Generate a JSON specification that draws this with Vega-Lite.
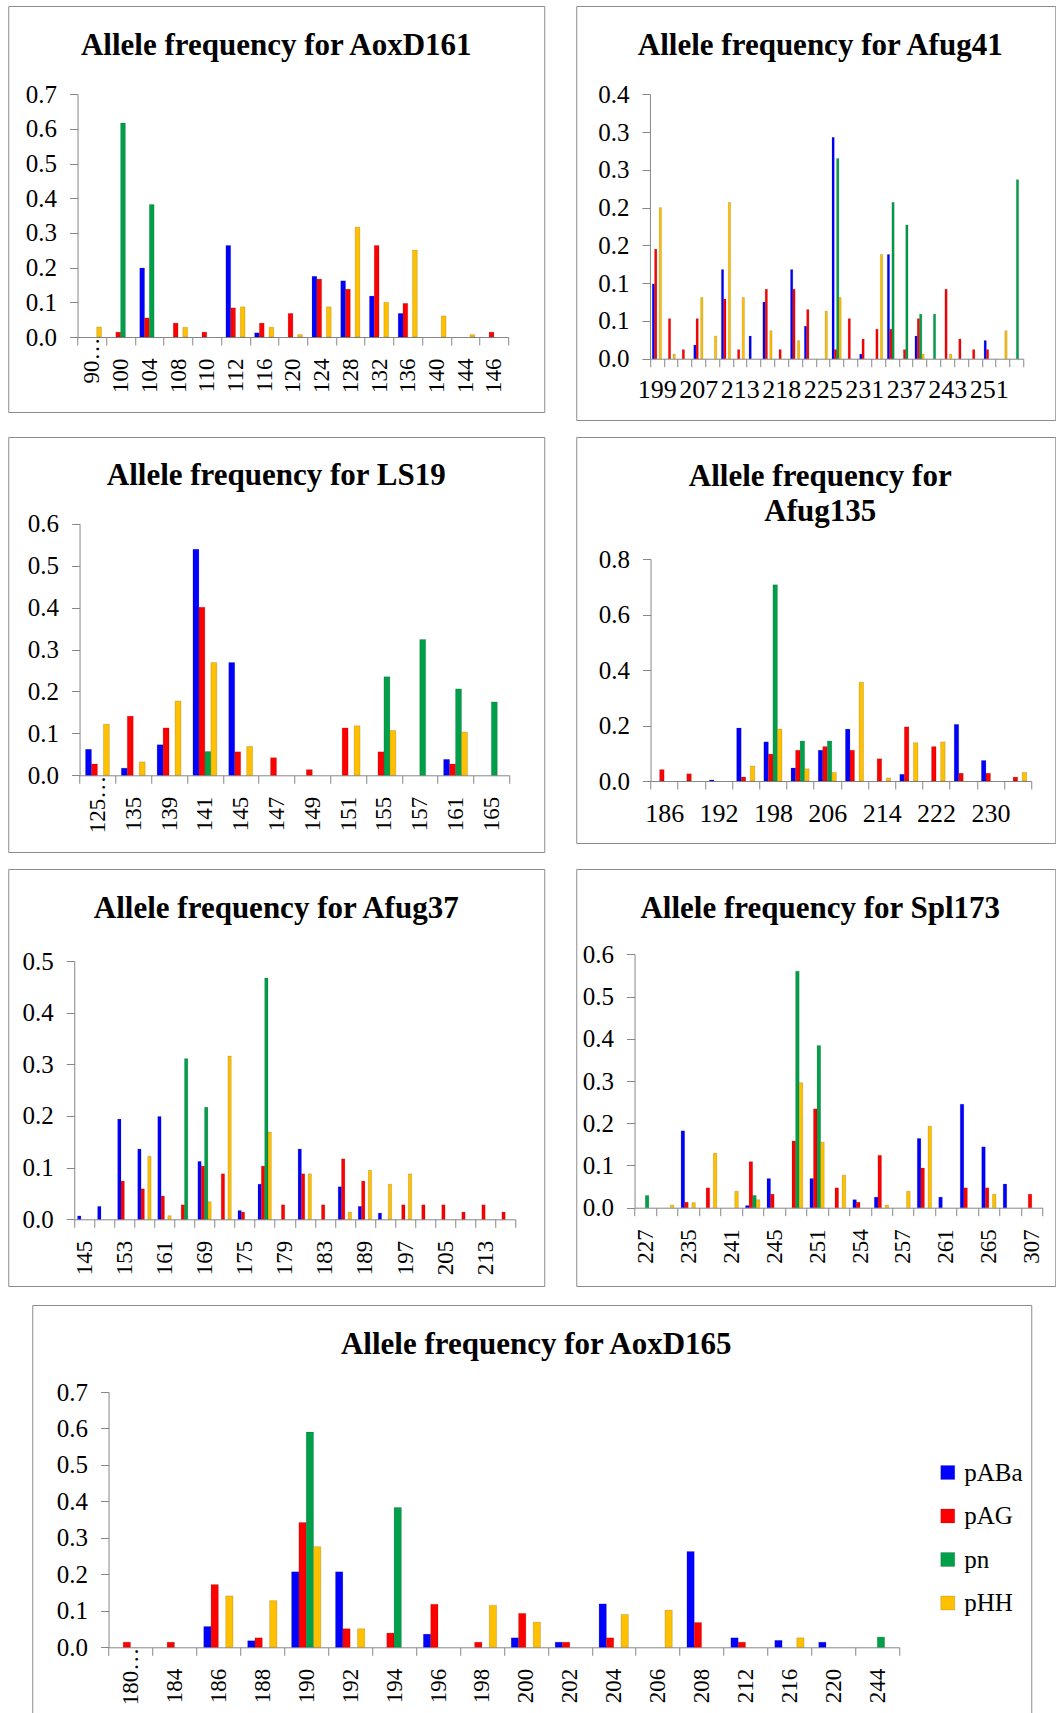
{
  "$schema": "https://vega.github.io/schema/vega-lite/v6.json",
  "background": "white",
  "padding": {"left": -4, "top": 5, "right": 0, "bottom": 0},
  "spacing": 17,
  "center": true,
  "resolve": {"scale": {"x": "independent", "y": "independent", "xOffset": "independent", "color": "independent"}, "axis": {"x": "independent", "y": "independent"}, "legend": {"color": "independent"}},
  "config": {
    "view": {"stroke": "#8c8c8c", "strokeWidth": 1},
    "axis": {"grid": false, "labelFont": "Liberation Serif", "labelFontSize": 23, "labelColor": "#000000", "domainColor": "#868686", "tickColor": "#868686", "tickSize": 8, "domainWidth": 1, "tickWidth": 1},
    "axisY": {"labelFont": "Liberation Serif", "labelFontSize": 25},
    "axisX": {"labelFont": "Liberation Serif"},
    "title": {"font": "Liberation Serif", "fontSize": 31, "fontWeight": "bold", "color": "#000000", "anchor": "middle", "baseline": "top", "frame": "group"},
    "bar": {"stroke": "#000000", "strokeWidth": 0.4, "strokeOpacity": 0.35}
  },
  "data": {"values": [
    {"locus":"AoxD161","allele":"90…","series":"pHH","freq":0.029},
    {"locus":"AoxD161","allele":"100","series":"pAG","freq":0.014},
    {"locus":"AoxD161","allele":"100","series":"pn","freq":0.617},
    {"locus":"AoxD161","allele":"104","series":"pABa","freq":0.199},
    {"locus":"AoxD161","allele":"104","series":"pAG","freq":0.055},
    {"locus":"AoxD161","allele":"104","series":"pn","freq":0.382},
    {"locus":"AoxD161","allele":"108","series":"pAG","freq":0.040},
    {"locus":"AoxD161","allele":"108","series":"pHH","freq":0.028},
    {"locus":"AoxD161","allele":"110","series":"pAG","freq":0.014},
    {"locus":"AoxD161","allele":"112","series":"pABa","freq":0.264},
    {"locus":"AoxD161","allele":"112","series":"pAG","freq":0.084},
    {"locus":"AoxD161","allele":"112","series":"pHH","freq":0.087},
    {"locus":"AoxD161","allele":"116","series":"pABa","freq":0.012},
    {"locus":"AoxD161","allele":"116","series":"pAG","freq":0.040},
    {"locus":"AoxD161","allele":"116","series":"pHH","freq":0.028},
    {"locus":"AoxD161","allele":"120","series":"pAG","freq":0.068},
    {"locus":"AoxD161","allele":"120","series":"pHH","freq":0.007},
    {"locus":"AoxD161","allele":"124","series":"pABa","freq":0.175},
    {"locus":"AoxD161","allele":"124","series":"pAG","freq":0.167},
    {"locus":"AoxD161","allele":"124","series":"pHH","freq":0.087},
    {"locus":"AoxD161","allele":"128","series":"pABa","freq":0.162},
    {"locus":"AoxD161","allele":"128","series":"pAG","freq":0.138},
    {"locus":"AoxD161","allele":"128","series":"pHH","freq":0.317},
    {"locus":"AoxD161","allele":"132","series":"pABa","freq":0.118},
    {"locus":"AoxD161","allele":"132","series":"pAG","freq":0.264},
    {"locus":"AoxD161","allele":"132","series":"pHH","freq":0.100},
    {"locus":"AoxD161","allele":"136","series":"pABa","freq":0.068},
    {"locus":"AoxD161","allele":"136","series":"pAG","freq":0.097},
    {"locus":"AoxD161","allele":"136","series":"pHH","freq":0.251},
    {"locus":"AoxD161","allele":"140","series":"pHH","freq":0.061},
    {"locus":"AoxD161","allele":"144","series":"pHH","freq":0.007},
    {"locus":"AoxD161","allele":"146","series":"pAG","freq":0.014},

    {"locus":"Afug41","allele":"199","series":"pABa","freq":0.099},
    {"locus":"Afug41","allele":"199","series":"pAG","freq":0.145},
    {"locus":"Afug41","allele":"199","series":"pHH","freq":0.200},
    {"locus":"Afug41","allele":"201","series":"pAG","freq":0.053},
    {"locus":"Afug41","allele":"201","series":"pHH","freq":0.006},
    {"locus":"Afug41","allele":"205","series":"pAG","freq":0.012},
    {"locus":"Afug41","allele":"207","series":"pABa","freq":0.018},
    {"locus":"Afug41","allele":"207","series":"pAG","freq":0.053},
    {"locus":"Afug41","allele":"207","series":"pHH","freq":0.081},
    {"locus":"Afug41","allele":"209","series":"pHH","freq":0.030},
    {"locus":"Afug41","allele":"211","series":"pABa","freq":0.118},
    {"locus":"Afug41","allele":"211","series":"pAG","freq":0.079},
    {"locus":"Afug41","allele":"211","series":"pHH","freq":0.207},
    {"locus":"Afug41","allele":"213","series":"pAG","freq":0.012},
    {"locus":"Afug41","allele":"213","series":"pHH","freq":0.081},
    {"locus":"Afug41","allele":"215","series":"pABa","freq":0.030},
    {"locus":"Afug41","allele":"216","series":"pABa","freq":0.075},
    {"locus":"Afug41","allele":"216","series":"pAG","freq":0.092},
    {"locus":"Afug41","allele":"216","series":"pHH","freq":0.037},
    {"locus":"Afug41","allele":"218","series":"pAG","freq":0.012},
    {"locus":"Afug41","allele":"220","series":"pABa","freq":0.118},
    {"locus":"Afug41","allele":"220","series":"pAG","freq":0.092},
    {"locus":"Afug41","allele":"220","series":"pHH","freq":0.024},
    {"locus":"Afug41","allele":"222","series":"pABa","freq":0.043},
    {"locus":"Afug41","allele":"222","series":"pAG","freq":0.065},
    {"locus":"Afug41","allele":"225","series":"pHH","freq":0.063},
    {"locus":"Afug41","allele":"227","series":"pABa","freq":0.293},
    {"locus":"Afug41","allele":"227","series":"pAG","freq":0.012},
    {"locus":"Afug41","allele":"227","series":"pn","freq":0.265},
    {"locus":"Afug41","allele":"227","series":"pHH","freq":0.081},
    {"locus":"Afug41","allele":"229","series":"pAG","freq":0.053},
    {"locus":"Afug41","allele":"231","series":"pABa","freq":0.006},
    {"locus":"Afug41","allele":"231","series":"pAG","freq":0.026},
    {"locus":"Afug41","allele":"233","series":"pAG","freq":0.039},
    {"locus":"Afug41","allele":"233","series":"pHH","freq":0.138},
    {"locus":"Afug41","allele":"235","series":"pABa","freq":0.138},
    {"locus":"Afug41","allele":"235","series":"pAG","freq":0.039},
    {"locus":"Afug41","allele":"235","series":"pn","freq":0.207},
    {"locus":"Afug41","allele":"237","series":"pAG","freq":0.012},
    {"locus":"Afug41","allele":"237","series":"pn","freq":0.177},
    {"locus":"Afug41","allele":"239","series":"pABa","freq":0.030},
    {"locus":"Afug41","allele":"239","series":"pAG","freq":0.053},
    {"locus":"Afug41","allele":"239","series":"pn","freq":0.059},
    {"locus":"Afug41","allele":"239","series":"pHH","freq":0.006},
    {"locus":"Afug41","allele":"241","series":"pn","freq":0.059},
    {"locus":"Afug41","allele":"243","series":"pAG","freq":0.092},
    {"locus":"Afug41","allele":"243","series":"pHH","freq":0.006},
    {"locus":"Afug41","allele":"245","series":"pAG","freq":0.026},
    {"locus":"Afug41","allele":"247","series":"pAG","freq":0.012},
    {"locus":"Afug41","allele":"251","series":"pABa","freq":0.024},
    {"locus":"Afug41","allele":"251","series":"pAG","freq":0.012},
    {"locus":"Afug41","allele":"253","series":"pHH","freq":0.037},
    {"locus":"Afug41","allele":"255","series":"pn","freq":0.237},

    {"locus":"LS19","allele":"125…","series":"pABa","freq":0.062},
    {"locus":"LS19","allele":"125…","series":"pAG","freq":0.027},
    {"locus":"LS19","allele":"125…","series":"pHH","freq":0.122},
    {"locus":"LS19","allele":"135","series":"pABa","freq":0.017},
    {"locus":"LS19","allele":"135","series":"pAG","freq":0.141},
    {"locus":"LS19","allele":"135","series":"pHH","freq":0.032},
    {"locus":"LS19","allele":"139","series":"pABa","freq":0.073},
    {"locus":"LS19","allele":"139","series":"pAG","freq":0.113},
    {"locus":"LS19","allele":"139","series":"pHH","freq":0.177},
    {"locus":"LS19","allele":"141","series":"pABa","freq":0.539},
    {"locus":"LS19","allele":"141","series":"pAG","freq":0.401},
    {"locus":"LS19","allele":"141","series":"pn","freq":0.057},
    {"locus":"LS19","allele":"141","series":"pHH","freq":0.269},
    {"locus":"LS19","allele":"145","series":"pABa","freq":0.269},
    {"locus":"LS19","allele":"145","series":"pAG","freq":0.056},
    {"locus":"LS19","allele":"145","series":"pHH","freq":0.069},
    {"locus":"LS19","allele":"147","series":"pAG","freq":0.042},
    {"locus":"LS19","allele":"149","series":"pAG","freq":0.0135},
    {"locus":"LS19","allele":"151","series":"pAG","freq":0.113},
    {"locus":"LS19","allele":"151","series":"pHH","freq":0.118},
    {"locus":"LS19","allele":"155","series":"pAG","freq":0.056},
    {"locus":"LS19","allele":"155","series":"pn","freq":0.235},
    {"locus":"LS19","allele":"155","series":"pHH","freq":0.107},
    {"locus":"LS19","allele":"157","series":"pn","freq":0.324},
    {"locus":"LS19","allele":"161","series":"pABa","freq":0.038},
    {"locus":"LS19","allele":"161","series":"pAG","freq":0.027},
    {"locus":"LS19","allele":"161","series":"pn","freq":0.206},
    {"locus":"LS19","allele":"161","series":"pHH","freq":0.103},
    {"locus":"LS19","allele":"165","series":"pn","freq":0.175},

    {"locus":"Afug135","allele":"186","series":"pAG","freq":0.041},
    {"locus":"Afug135","allele":"190","series":"pAG","freq":0.026},
    {"locus":"Afug135","allele":"192","series":"pABa","freq":0.004},
    {"locus":"Afug135","allele":"194","series":"pABa","freq":0.191},
    {"locus":"Afug135","allele":"194","series":"pAG","freq":0.014},
    {"locus":"Afug135","allele":"194","series":"pHH","freq":0.054},
    {"locus":"Afug135","allele":"198","series":"pABa","freq":0.141},
    {"locus":"Afug135","allele":"198","series":"pAG","freq":0.097},
    {"locus":"Afug135","allele":"198","series":"pn","freq":0.707},
    {"locus":"Afug135","allele":"198","series":"pHH","freq":0.187},
    {"locus":"Afug135","allele":"202","series":"pABa","freq":0.047},
    {"locus":"Afug135","allele":"202","series":"pAG","freq":0.111},
    {"locus":"Afug135","allele":"202","series":"pn","freq":0.144},
    {"locus":"Afug135","allele":"202","series":"pHH","freq":0.044},
    {"locus":"Afug135","allele":"206","series":"pABa","freq":0.111},
    {"locus":"Afug135","allele":"206","series":"pAG","freq":0.124},
    {"locus":"Afug135","allele":"206","series":"pn","freq":0.144},
    {"locus":"Afug135","allele":"206","series":"pHH","freq":0.031},
    {"locus":"Afug135","allele":"210","series":"pABa","freq":0.187},
    {"locus":"Afug135","allele":"210","series":"pAG","freq":0.111},
    {"locus":"Afug135","allele":"210","series":"pHH","freq":0.356},
    {"locus":"Afug135","allele":"214","series":"pAG","freq":0.080},
    {"locus":"Afug135","allele":"214","series":"pHH","freq":0.011},
    {"locus":"Afug135","allele":"218","series":"pABa","freq":0.024},
    {"locus":"Afug135","allele":"218","series":"pAG","freq":0.195},
    {"locus":"Afug135","allele":"218","series":"pHH","freq":0.138},
    {"locus":"Afug135","allele":"222","series":"pAG","freq":0.124},
    {"locus":"Afug135","allele":"222","series":"pHH","freq":0.141},
    {"locus":"Afug135","allele":"226","series":"pABa","freq":0.204},
    {"locus":"Afug135","allele":"226","series":"pAG","freq":0.028},
    {"locus":"Afug135","allele":"230","series":"pABa","freq":0.074},
    {"locus":"Afug135","allele":"230","series":"pAG","freq":0.028},
    {"locus":"Afug135","allele":"234","series":"pAG","freq":0.014},
    {"locus":"Afug135","allele":"234","series":"pHH","freq":0.031},

    {"locus":"Afug37","allele":"145","series":"pABa","freq":0.0065},
    {"locus":"Afug37","allele":"149","series":"pABa","freq":0.025},
    {"locus":"Afug37","allele":"153","series":"pABa","freq":0.194},
    {"locus":"Afug37","allele":"153","series":"pAG","freq":0.074},
    {"locus":"Afug37","allele":"157","series":"pABa","freq":0.136},
    {"locus":"Afug37","allele":"157","series":"pAG","freq":0.059},
    {"locus":"Afug37","allele":"157","series":"pHH","freq":0.122},
    {"locus":"Afug37","allele":"161","series":"pABa","freq":0.199},
    {"locus":"Afug37","allele":"161","series":"pAG","freq":0.045},
    {"locus":"Afug37","allele":"161","series":"pHH","freq":0.007},
    {"locus":"Afug37","allele":"165","series":"pAG","freq":0.028},
    {"locus":"Afug37","allele":"165","series":"pn","freq":0.311},
    {"locus":"Afug37","allele":"169","series":"pABa","freq":0.112},
    {"locus":"Afug37","allele":"169","series":"pAG","freq":0.103},
    {"locus":"Afug37","allele":"169","series":"pn","freq":0.217},
    {"locus":"Afug37","allele":"169","series":"pHH","freq":0.034},
    {"locus":"Afug37","allele":"173","series":"pAG","freq":0.088},
    {"locus":"Afug37","allele":"173","series":"pHH","freq":0.316},
    {"locus":"Afug37","allele":"175","series":"pABa","freq":0.017},
    {"locus":"Afug37","allele":"175","series":"pAG","freq":0.014},
    {"locus":"Afug37","allele":"177","series":"pABa","freq":0.068},
    {"locus":"Afug37","allele":"177","series":"pAG","freq":0.103},
    {"locus":"Afug37","allele":"177","series":"pn","freq":0.467},
    {"locus":"Afug37","allele":"177","series":"pHH","freq":0.169},
    {"locus":"Afug37","allele":"179","series":"pAG","freq":0.028},
    {"locus":"Afug37","allele":"181","series":"pABa","freq":0.136},
    {"locus":"Afug37","allele":"181","series":"pAG","freq":0.088},
    {"locus":"Afug37","allele":"181","series":"pHH","freq":0.088},
    {"locus":"Afug37","allele":"183","series":"pAG","freq":0.028},
    {"locus":"Afug37","allele":"187","series":"pABa","freq":0.063},
    {"locus":"Afug37","allele":"187","series":"pAG","freq":0.117},
    {"locus":"Afug37","allele":"187","series":"pHH","freq":0.014},
    {"locus":"Afug37","allele":"189","series":"pABa","freq":0.025},
    {"locus":"Afug37","allele":"189","series":"pAG","freq":0.074},
    {"locus":"Afug37","allele":"189","series":"pHH","freq":0.095},
    {"locus":"Afug37","allele":"193","series":"pABa","freq":0.012},
    {"locus":"Afug37","allele":"193","series":"pHH","freq":0.068},
    {"locus":"Afug37","allele":"197","series":"pAG","freq":0.028},
    {"locus":"Afug37","allele":"197","series":"pHH","freq":0.088},
    {"locus":"Afug37","allele":"201","series":"pAG","freq":0.028},
    {"locus":"Afug37","allele":"205","series":"pAG","freq":0.028},
    {"locus":"Afug37","allele":"209","series":"pAG","freq":0.014},
    {"locus":"Afug37","allele":"213","series":"pAG","freq":0.028},
    {"locus":"Afug37","allele":"217","series":"pAG","freq":0.014},

    {"locus":"Spl173","allele":"227","series":"pn","freq":0.029},
    {"locus":"Spl173","allele":"233","series":"pHH","freq":0.006},
    {"locus":"Spl173","allele":"235","series":"pABa","freq":0.182},
    {"locus":"Spl173","allele":"235","series":"pAG","freq":0.013},
    {"locus":"Spl173","allele":"235","series":"pHH","freq":0.012},
    {"locus":"Spl173","allele":"239","series":"pAG","freq":0.047},
    {"locus":"Spl173","allele":"239","series":"pHH","freq":0.129},
    {"locus":"Spl173","allele":"241","series":"pHH","freq":0.039},
    {"locus":"Spl173","allele":"243","series":"pABa","freq":0.005},
    {"locus":"Spl173","allele":"243","series":"pAG","freq":0.109},
    {"locus":"Spl173","allele":"243","series":"pn","freq":0.029},
    {"locus":"Spl173","allele":"243","series":"pHH","freq":0.019},
    {"locus":"Spl173","allele":"245","series":"pABa","freq":0.069},
    {"locus":"Spl173","allele":"245","series":"pAG","freq":0.032},
    {"locus":"Spl173","allele":"249","series":"pAG","freq":0.158},
    {"locus":"Spl173","allele":"249","series":"pn","freq":0.560},
    {"locus":"Spl173","allele":"249","series":"pHH","freq":0.296},
    {"locus":"Spl173","allele":"251","series":"pABa","freq":0.069},
    {"locus":"Spl173","allele":"251","series":"pAG","freq":0.234},
    {"locus":"Spl173","allele":"251","series":"pn","freq":0.384},
    {"locus":"Spl173","allele":"251","series":"pHH","freq":0.155},
    {"locus":"Spl173","allele":"252","series":"pAG","freq":0.047},
    {"locus":"Spl173","allele":"252","series":"pHH","freq":0.077},
    {"locus":"Spl173","allele":"254","series":"pABa","freq":0.019},
    {"locus":"Spl173","allele":"254","series":"pAG","freq":0.013},
    {"locus":"Spl173","allele":"255","series":"pABa","freq":0.025},
    {"locus":"Spl173","allele":"255","series":"pAG","freq":0.124},
    {"locus":"Spl173","allele":"255","series":"pHH","freq":0.006},
    {"locus":"Spl173","allele":"257","series":"pHH","freq":0.039},
    {"locus":"Spl173","allele":"259","series":"pABa","freq":0.164},
    {"locus":"Spl173","allele":"259","series":"pAG","freq":0.094},
    {"locus":"Spl173","allele":"259","series":"pHH","freq":0.193},
    {"locus":"Spl173","allele":"261","series":"pABa","freq":0.025},
    {"locus":"Spl173","allele":"263","series":"pABa","freq":0.245},
    {"locus":"Spl173","allele":"263","series":"pAG","freq":0.047},
    {"locus":"Spl173","allele":"265","series":"pABa","freq":0.144},
    {"locus":"Spl173","allele":"265","series":"pAG","freq":0.047},
    {"locus":"Spl173","allele":"265","series":"pHH","freq":0.032},
    {"locus":"Spl173","allele":"267","series":"pABa","freq":0.056},
    {"locus":"Spl173","allele":"307","series":"pAG","freq":0.032},

    {"locus":"AoxD165","allele":"180…","series":"pAG","freq":0.014},
    {"locus":"AoxD165","allele":"184","series":"pAG","freq":0.014},
    {"locus":"AoxD165","allele":"186","series":"pABa","freq":0.057},
    {"locus":"AoxD165","allele":"186","series":"pAG","freq":0.172},
    {"locus":"AoxD165","allele":"186","series":"pHH","freq":0.141},
    {"locus":"AoxD165","allele":"188","series":"pABa","freq":0.018},
    {"locus":"AoxD165","allele":"188","series":"pAG","freq":0.026},
    {"locus":"AoxD165","allele":"188","series":"pHH","freq":0.128},
    {"locus":"AoxD165","allele":"190","series":"pABa","freq":0.207},
    {"locus":"AoxD165","allele":"190","series":"pAG","freq":0.342},
    {"locus":"AoxD165","allele":"190","series":"pn","freq":0.590},
    {"locus":"AoxD165","allele":"190","series":"pHH","freq":0.276},
    {"locus":"AoxD165","allele":"192","series":"pABa","freq":0.207},
    {"locus":"AoxD165","allele":"192","series":"pAG","freq":0.051},
    {"locus":"AoxD165","allele":"192","series":"pHH","freq":0.051},
    {"locus":"AoxD165","allele":"194","series":"pAG","freq":0.039},
    {"locus":"AoxD165","allele":"194","series":"pn","freq":0.383},
    {"locus":"AoxD165","allele":"196","series":"pABa","freq":0.036},
    {"locus":"AoxD165","allele":"196","series":"pAG","freq":0.118},
    {"locus":"AoxD165","allele":"198","series":"pAG","freq":0.014},
    {"locus":"AoxD165","allele":"198","series":"pHH","freq":0.115},
    {"locus":"AoxD165","allele":"200","series":"pABa","freq":0.026},
    {"locus":"AoxD165","allele":"200","series":"pAG","freq":0.093},
    {"locus":"AoxD165","allele":"200","series":"pHH","freq":0.069},
    {"locus":"AoxD165","allele":"202","series":"pABa","freq":0.014},
    {"locus":"AoxD165","allele":"202","series":"pAG","freq":0.014},
    {"locus":"AoxD165","allele":"204","series":"pABa","freq":0.119},
    {"locus":"AoxD165","allele":"204","series":"pAG","freq":0.026},
    {"locus":"AoxD165","allele":"204","series":"pHH","freq":0.090},
    {"locus":"AoxD165","allele":"206","series":"pHH","freq":0.102},
    {"locus":"AoxD165","allele":"208","series":"pABa","freq":0.263},
    {"locus":"AoxD165","allele":"208","series":"pAG","freq":0.068},
    {"locus":"AoxD165","allele":"212","series":"pABa","freq":0.026},
    {"locus":"AoxD165","allele":"212","series":"pAG","freq":0.014},
    {"locus":"AoxD165","allele":"216","series":"pABa","freq":0.019},
    {"locus":"AoxD165","allele":"216","series":"pHH","freq":0.026},
    {"locus":"AoxD165","allele":"220","series":"pABa","freq":0.014},
    {"locus":"AoxD165","allele":"244","series":"pn","freq":0.028}
  ]},
  "vconcat": [
    {
      "columns": 2,
      "bounds": "flush",
      "spacing": {"row": 17, "column": 32},
      "resolve": {"scale": {"x": "independent", "y": "independent", "xOffset": "independent", "color": "independent"}, "axis": {"x": "independent", "y": "independent"}, "legend": {"color": "independent"}},
      "concat": [
        {
          "width": 536, "height": 406,
          "title": {"text": "Allele frequency for AoxD161", "offset": -55.5},
          "transform": [{"filter": "datum.locus == 'AoxD161'"}],
          "mark": {"type": "bar"},
          "encoding": {
            "x": {"field": "allele", "type": "nominal", "sort": null, "scale": {"range": [69.3, 500], "paddingInner": 0, "paddingOuter": 0}, "axis": {"title": null, "offset": -75, "labelAngle": -90, "labelPadding": {"condition": {"test": "indexof(datum.label, '…') >= 0", "value": -8}, "value": 13}, "tickBand": "extent", "labelOverlap": false}},
            "xOffset": {"field": "series", "type": "nominal", "scale": {"domain": ["pABa", "pAG", "pn", "pHH"], "paddingInner": 0, "paddingOuter": 1}},
            "y": {"field": "freq", "type": "quantitative", "scale": {"domain": [0, 0.7], "range": [331, 88.3], "nice": false}, "axis": {"title": null, "offset": -69.3, "values": [0, 0.1, 0.2, 0.3, 0.4, 0.5, 0.6, 0.7], "format": ".1f", "labelPadding": 13}},
            "color": {"field": "series", "type": "nominal", "scale": {"domain": ["pABa", "pAG", "pn", "pHH"], "range": ["#0000FF", "#FF0000", "#00A04A", "#FFC000"]}, "legend": null}
          }
        },
        {
          "width": 479, "height": 414,
          "title": {"text": "Allele frequency for Afug41", "offset": -55.5, "dx": 4.5},
          "transform": [{"filter": "datum.locus == 'Afug41'"}],
          "mark": {"type": "bar"},
          "encoding": {
            "x": {"field": "allele", "type": "nominal", "sort": null, "scale": {"range": [73.7, 447], "paddingInner": 0, "paddingOuter": 0}, "axis": {"title": null, "offset": -61.3, "labelAngle": 0, "labelFontSize": 26, "labelPadding": 10, "tickBand": "extent", "labelOverlap": false, "labelExpr": "indexof(['199','207','213','218','225','231','237','243','251'], datum.label) >= 0 ? datum.label : ''"}},
            "xOffset": {"field": "series", "type": "nominal", "scale": {"domain": ["pABa", "pAG", "pn", "pHH"], "paddingInner": 0, "paddingOuter": 1}},
            "y": {"field": "freq", "type": "quantitative", "scale": {"domain": [0, 0.35], "range": [352.7, 88.3], "nice": false}, "axis": {"title": null, "offset": -73.7, "values": [0, 0.05, 0.1, 0.15, 0.2, 0.25, 0.3, 0.35], "labelExpr": "format(datum.value + 0.0001, '.1f')", "labelPadding": 13}},
            "color": {"field": "series", "type": "nominal", "scale": {"domain": ["pABa", "pAG", "pn", "pHH"], "range": ["#0000FF", "#FF0000", "#00A04A", "#FFC000"]}, "legend": null}
          }
        },
        {
          "width": 536, "height": 415,
          "title": {"text": "Allele frequency for LS19", "offset": -54.8},
          "transform": [{"filter": "datum.locus == 'LS19'"}],
          "mark": {"type": "bar"},
          "encoding": {
            "x": {"field": "allele", "type": "nominal", "sort": null, "scale": {"range": [71.3, 501], "paddingInner": 0, "paddingOuter": 0}, "axis": {"title": null, "offset": -76.7, "labelAngle": -90, "labelPadding": {"condition": {"test": "indexof(datum.label, '…') >= 0", "value": -8}, "value": 13}, "tickBand": "extent", "labelOverlap": false}},
            "xOffset": {"field": "series", "type": "nominal", "scale": {"domain": ["pABa", "pAG", "pn", "pHH"], "paddingInner": 0, "paddingOuter": 1}},
            "y": {"field": "freq", "type": "quantitative", "scale": {"domain": [0, 0.6], "range": [338.3, 86.7], "nice": false}, "axis": {"title": null, "offset": -71.3, "values": [0, 0.1, 0.2, 0.3, 0.4, 0.5, 0.6], "format": ".1f", "labelPadding": 13}},
            "color": {"field": "series", "type": "nominal", "scale": {"domain": ["pABa", "pAG", "pn", "pHH"], "range": ["#0000FF", "#FF0000", "#00A04A", "#FFC000"]}, "legend": null}
          }
        },
        {
          "width": 479, "height": 406,
          "title": {"text": ["Allele frequency for", "Afug135"], "offset": -90.5, "lineHeight": 35, "dx": 4.5},
          "transform": [{"filter": "datum.locus == 'Afug135'"}],
          "mark": {"type": "bar"},
          "encoding": {
            "x": {"field": "allele", "type": "nominal", "sort": null, "scale": {"range": [74.3, 455], "paddingInner": 0, "paddingOuter": 0}, "axis": {"title": null, "offset": -62, "labelAngle": 0, "labelFontSize": 26, "labelPadding": 11, "tickBand": "extent", "labelOverlap": false, "labelExpr": "indexof(['186','192','198','206','214','222','230'], datum.label) >= 0 ? datum.label : ''"}},
            "xOffset": {"field": "series", "type": "nominal", "scale": {"domain": ["pABa", "pAG", "pn", "pHH"], "paddingInner": 0, "paddingOuter": 1}},
            "y": {"field": "freq", "type": "quantitative", "scale": {"domain": [0, 0.8], "range": [344, 122], "nice": false}, "axis": {"title": null, "offset": -74.3, "values": [0, 0.2, 0.4, 0.6, 0.8], "format": ".1f", "labelPadding": 13}},
            "color": {"field": "series", "type": "nominal", "scale": {"domain": ["pABa", "pAG", "pn", "pHH"], "range": ["#0000FF", "#FF0000", "#00A04A", "#FFC000"]}, "legend": null}
          }
        },
        {
          "width": 536, "height": 417,
          "title": {"text": "Allele frequency for Afug37", "offset": -56.3},
          "transform": [{"filter": "datum.locus == 'Afug37'"}],
          "mark": {"type": "bar"},
          "encoding": {
            "x": {"field": "allele", "type": "nominal", "sort": null, "scale": {"range": [66, 507], "paddingInner": 0, "paddingOuter": 0}, "axis": {"title": null, "offset": -66.7, "labelAngle": -90, "labelPadding": 13, "tickBand": "extent", "labelOverlap": false, "labelExpr": "indexof(['145','153','161','169','175','179','183','189','197','205','213'], datum.label) >= 0 ? datum.label : ''"}},
            "xOffset": {"field": "series", "type": "nominal", "scale": {"domain": ["pABa", "pAG", "pn", "pHH"], "paddingInner": 0, "paddingOuter": 1}},
            "y": {"field": "freq", "type": "quantitative", "scale": {"domain": [0, 0.5], "range": [350.3, 92], "nice": false}, "axis": {"title": null, "offset": -66, "values": [0, 0.1, 0.2, 0.3, 0.4, 0.5], "format": ".1f", "labelPadding": 13}},
            "color": {"field": "series", "type": "nominal", "scale": {"domain": ["pABa", "pAG", "pn", "pHH"], "range": ["#0000FF", "#FF0000", "#00A04A", "#FFC000"]}, "legend": null}
          }
        },
        {
          "width": 479, "height": 417,
          "title": {"text": "Allele frequency for Spl173", "offset": -56.3, "dx": 4.5},
          "transform": [{"filter": "datum.locus == 'Spl173'"}],
          "mark": {"type": "bar"},
          "encoding": {
            "x": {"field": "allele", "type": "nominal", "sort": null, "scale": {"range": [58.3, 466.3], "paddingInner": 0, "paddingOuter": 0}, "axis": {"title": null, "offset": -78.3, "labelAngle": -90, "labelPadding": 13, "tickBand": "extent", "labelOverlap": false, "labelExpr": "indexof(['227','235','241','245','251','254','257','261','265','307'], datum.label) >= 0 ? datum.label : ''"}},
            "xOffset": {"field": "series", "type": "nominal", "scale": {"domain": ["pABa", "pAG", "pn", "pHH"], "paddingInner": 0, "paddingOuter": 1}},
            "y": {"field": "freq", "type": "quantitative", "scale": {"domain": [0, 0.6], "range": [338.7, 85.3], "nice": false}, "axis": {"title": null, "offset": -58.3, "values": [0, 0.1, 0.2, 0.3, 0.4, 0.5, 0.6], "format": ".1f", "labelPadding": 13}},
            "color": {"field": "series", "type": "nominal", "scale": {"domain": ["pABa", "pAG", "pn", "pHH"], "range": ["#0000FF", "#FF0000", "#00A04A", "#FFC000"]}, "legend": null}
          }
        }
      ]
    },
    {
      "width": 999, "height": 411,
      "title": {"text": "Allele frequency for AoxD165", "offset": -55.8, "dx": 4.5},
      "transform": [{"filter": "datum.locus == 'AoxD165'"}],
      "mark": {"type": "bar"},
      "encoding": {
        "x": {"field": "allele", "type": "nominal", "sort": null, "scale": {"range": [76.3, 867], "paddingInner": 0, "paddingOuter": 0}, "axis": {"title": null, "offset": -68.7, "labelAngle": -90, "labelPadding": {"condition": {"test": "indexof(datum.label, '…') >= 0", "value": -8}, "value": 13}, "tickBand": "extent", "labelOverlap": false}},
        "xOffset": {"field": "series", "type": "nominal", "scale": {"domain": ["pABa", "pAG", "pn", "pHH"], "paddingInner": 0, "paddingOuter": 1}},
        "y": {"field": "freq", "type": "quantitative", "scale": {"domain": [0, 0.7], "range": [342.3, 87], "nice": false}, "axis": {"title": null, "offset": -76.3, "values": [0, 0.1, 0.2, 0.3, 0.4, 0.5, 0.6, 0.7], "format": ".1f", "labelPadding": 13}},
        "color": {"field": "series", "type": "nominal", "scale": {"domain": ["pABa", "pAG", "pn", "pHH"], "range": ["#0000FF", "#FF0000", "#00A04A", "#FFC000"]},
          "legend": {"title": null, "orient": "none", "legendX": 903, "legendY": 155, "symbolType": "square", "symbolSize": 196, "symbolStrokeWidth": 0, "symbolOpacity": 1, "labelFont": "Liberation Serif", "labelFontSize": 25, "labelColor": "#000000", "rowPadding": 17.5, "labelOffset": 4, "padding": 0}}
      }
    }
  ]
}
